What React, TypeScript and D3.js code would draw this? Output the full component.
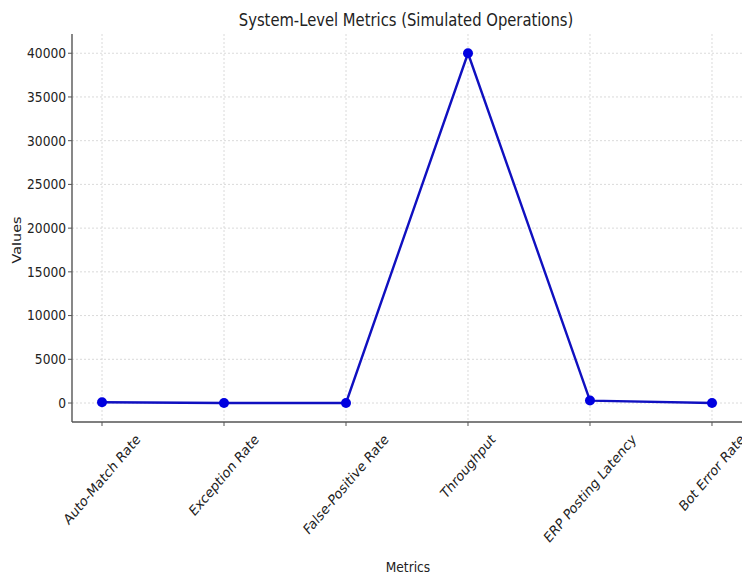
import React from "react";
import * as d3 from "d3";

const categories = [
  "Auto-Match Rate",
  "Exception Rate",
  "False-Positive Rate",
  "Throughput",
  "ERP Posting Latency",
  "Bot Error Rate",
];
const values = [95, 5, 2, 40000, 280, 1];
const yTicks = [0, 5000, 10000, 15000, 20000, 25000, 30000, 35000, 40000];

const W = 742;
const H = 576;
const left = 72;
const right = 742;
const top = 34;
const bottom = 422;
const SX = 0.85;
const FONT = "'DejaVu Sans', sans-serif";
const TICK_FS = 14.4;

function measure(text: string, size: number): number {
  if (typeof document === "undefined") return text.length * size * 0.6;
  const c = document.createElement("canvas");
  const ctx = c.getContext("2d");
  if (!ctx) return text.length * size * 0.6;
  ctx.font = `${size}px 'DejaVu Sans'`;
  return ctx.measureText(text).width;
}

export default function App() {
  const x = d3
    .scalePoint<string>()
    .domain(categories)
    .range([left, right])
    .padding(0.246);
  const y = d3.scaleLinear().domain([-2170, 42200]).range([bottom, top]);
  const line = d3
    .line<number>()
    .x((_, i) => x(categories[i])!)
    .y((d) => y(d));

  return (
    <svg
      width={W}
      height={H}
      style={{ position: "absolute", left: 0, top: 0, background: "#fff" }}
      fontFamily={FONT}
    >
      {yTicks.map((t) => (
        <line
          key={"gy" + t}
          x1={left}
          x2={right}
          y1={y(t)}
          y2={y(t)}
          stroke="#d0d0d0"
          strokeWidth={0.8}
          strokeDasharray="2,2"
        />
      ))}
      {categories.map((c) => (
        <line
          key={"gx" + c}
          x1={x(c)}
          x2={x(c)}
          y1={top}
          y2={bottom}
          stroke="#d0d0d0"
          strokeWidth={0.8}
          strokeDasharray="2,2"
        />
      ))}
      <line x1={left} x2={left} y1={top} y2={bottom} stroke="#555" strokeWidth={1.4} />
      <line x1={left} x2={right} y1={bottom} y2={bottom} stroke="#555" strokeWidth={1.4} />
      {yTicks.map((t) => (
        <g key={"ty" + t}>
          <line x1={left - 4} x2={left} y1={y(t)} y2={y(t)} stroke="#555" strokeWidth={1} />
          <text
            transform={`translate(${left - 6},${y(t)}) scale(${SX},1)`}
            textAnchor="end"
            dominantBaseline="central"
            fontSize={TICK_FS}
            fill="#222"
          >
            {t}
          </text>
        </g>
      ))}
      {categories.map((c) => {
        const L = measure(c, TICK_FS);
        const h = TICK_FS * 1.164;
        const cy = bottom + 9 + (L + h) / (2 * Math.SQRT2);
        return (
          <g key={"tx" + c}>
            <line x1={x(c)} x2={x(c)} y1={bottom} y2={bottom + 4} stroke="#555" strokeWidth={1} />
            <text
              transform={`translate(${x(c)},${cy}) scale(${SX},1) rotate(-45)`}
              textAnchor="middle"
              dominantBaseline="central"
              fontSize={TICK_FS}
              fill="#222"
            >
              {c}
            </text>
          </g>
        );
      })}
      <path d={line(values)!} fill="none" stroke="#1010c0" strokeWidth={2.4} strokeLinejoin="round" />
      {values.map((v, i) => (
        <circle key={"p" + i} cx={x(categories[i])} cy={y(v)} r={5} fill="#0000e0" />
      ))}
      <text
        transform={`translate(406,20) scale(${SX},1)`}
        textAnchor="middle"
        dominantBaseline="central"
        fontSize={17.4}
        fill="#222"
      >
        System-Level Metrics (Simulated Operations)
      </text>
      <text
        transform={`translate(17,240) scale(${SX},1) rotate(-90)`}
        textAnchor="middle"
        dominantBaseline="central"
        fontSize={TICK_FS}
        fill="#222"
      >
        Values
      </text>
      <text
        transform={`translate(408,567) scale(${SX},1)`}
        textAnchor="middle"
        dominantBaseline="central"
        fontSize={TICK_FS}
        fill="#222"
      >
        Metrics
      </text>
    </svg>
  );
}
